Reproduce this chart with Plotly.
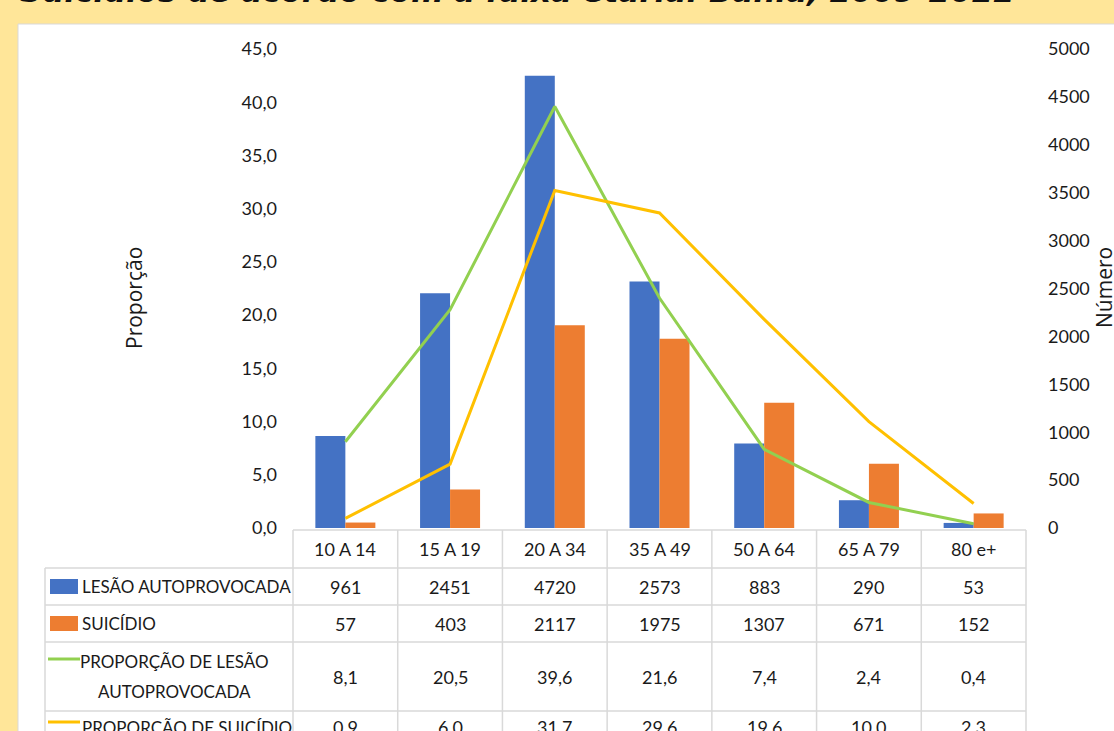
import plotly.graph_objects as go

W, H = 1114, 731

categories = ["10 A 14", "15 A 19", "20 A 34", "35 A 49", "50 A 64", "65 A 79", "80 e+"]
lesao = [961, 2451, 4720, 2573, 883, 290, 53]
suicidio = [57, 403, 2117, 1975, 1307, 671, 152]
prop_lesao = [8.1, 20.5, 39.6, 21.6, 7.4, 2.4, 0.4]
prop_suicidio = [0.9, 6.0, 31.7, 29.6, 19.6, 10.0, 2.3]

row_labels = ["LESÃO AUTOPROVOCADA", "SUICÍDIO", "PROPORÇÃO DE LESÃO<br>AUTOPROVOCADA", "PROPORÇÃO DE SUICÍDIO"]
title_text = "Suicídios de acordo com a faixa etária. Bahia, 2009-2022"

BLUE = "#4472C4"
ORANGE = "#ED7D31"
GREEN = "#92D050"
GOLD = "#FFC000"
GRID = "#D9D9D9"
FONT = "Lato"

def px(x):
    return x / W

def py(y):
    return 1 - y / H

xd = [px(293), px(1026)]
yd = [py(528), py(49)]

fig = go.Figure()
fig.add_trace(go.Bar(x=categories, y=lesao, name="LESÃO AUTOPROVOCADA", marker_color=BLUE,
                     marker_line_width=0, yaxis="y"))
fig.add_trace(go.Bar(x=categories, y=suicidio, name="SUICÍDIO", marker_color=ORANGE,
                     marker_line_width=0, yaxis="y"))
fig.add_trace(go.Scatter(x=categories, y=prop_lesao, mode="lines", line=dict(color=GREEN, width=3),
                         name="PROPORÇÃO DE LESÃO AUTOPROVOCADA", yaxis="y2"))
fig.add_trace(go.Scatter(x=categories, y=prop_suicidio, mode="lines", line=dict(color=GOLD, width=3),
                         name="PROPORÇÃO DE SUICÍDIO", yaxis="y2"))

shapes = []
annotations = []

# white chart area
shapes.append(dict(type="rect", xref="paper", yref="paper", x0=px(18), x1=1.02, y0=-0.02, y1=py(24),
                   fillcolor="white", line=dict(color=GRID, width=1), layer="below"))

# table geometry
n = len(categories)
def col_x(i):
    return xd[0] + (xd[1] - xd[0]) * i / n

row_bounds = [568, 605, 642, 711]
row_centers = [586.5, 623.5, 676.5, 727]

shapes.append(dict(type="line", xref="paper", yref="paper", x0=col_x(0), x1=col_x(n), y0=py(530), y1=py(530),
                   line=dict(color=GRID, width=1.5)))
for i in range(n + 1):
    shapes.append(dict(type="line", xref="paper", yref="paper", x0=col_x(i), x1=col_x(i), y0=py(530), y1=-0.05,
                       line=dict(color=GRID, width=1.5)))
for yb in row_bounds:
    shapes.append(dict(type="line", xref="paper", yref="paper", x0=px(45), x1=col_x(n), y0=py(yb), y1=py(yb),
                       line=dict(color=GRID, width=1.5)))
shapes.append(dict(type="line", xref="paper", yref="paper", x0=px(45), x1=px(45), y0=py(568), y1=-0.05,
                   line=dict(color=GRID, width=1.5)))

# legend keys
shapes.append(dict(type="rect", xref="paper", yref="paper", x0=px(50), x1=px(78), y0=py(594), y1=py(579),
                   fillcolor=BLUE, line=dict(width=0)))
shapes.append(dict(type="rect", xref="paper", yref="paper", x0=px(50), x1=px(78), y0=py(631), y1=py(616),
                   fillcolor=ORANGE, line=dict(width=0)))
shapes.append(dict(type="line", xref="paper", yref="paper", x0=px(48), x1=px(80), y0=py(659), y1=py(659),
                   line=dict(color=GREEN, width=3)))
shapes.append(dict(type="line", xref="paper", yref="paper", x0=px(48), x1=px(80), y0=py(722), y1=py(722),
                   line=dict(color=GOLD, width=3)))

tfont = dict(family=FONT, size=18, color="#1a1a1a")
lfont = dict(family=FONT, size=17, color="#1a1a1a")

for i, c in enumerate(categories):
    annotations.append(dict(text=c, x=(col_x(i) + col_x(i + 1)) / 2, y=py(549), xref="paper", yref="paper",
                            showarrow=False, font=tfont, xanchor="center", yanchor="middle"))

rows = [lesao, suicidio,
        [f"{v:.1f}".replace(".", ",") for v in prop_lesao],
        [f"{v:.1f}".replace(".", ",") for v in prop_suicidio]]
for r, vals in enumerate(rows):
    yc = row_centers[r]
    parts = row_labels[r].split("<br>")
    if len(parts) == 1:
        annotations.append(dict(text=parts[0], x=px(80), y=py(yc), xref="paper", yref="paper",
                                showarrow=False, font=lfont, xanchor="left", yanchor="middle"))
    else:
        for k, part in enumerate(parts):
            annotations.append(dict(text=part, x=px(174), y=py(yc - 15 + 30 * k), xref="paper", yref="paper",
                                    showarrow=False, font=lfont, xanchor="center", yanchor="middle"))
    for i, v in enumerate(vals):
        annotations.append(dict(text=str(v), x=(col_x(i) + col_x(i + 1)) / 2, y=py(yc), xref="paper", yref="paper",
                                showarrow=False, font=tfont, xanchor="center", yanchor="middle"))

annotations.append(dict(text="Proporção", x=px(134), y=py(298), xref="paper", yref="paper", showarrow=False,
                        textangle=-90, font=dict(family="Open Sans", size=21, color="#1a1a1a"),
                        xanchor="center", yanchor="middle"))
annotations.append(dict(text="Número", x=px(1104), y=py(288), xref="paper", yref="paper", showarrow=False,
                        textangle=-90, font=dict(family="Open Sans", size=21, color="#1a1a1a"),
                        xanchor="center", yanchor="middle"))

annotations.append(dict(text=title_text, x=px(18), y=py(11), xref="paper", yref="paper", showarrow=False,
                        font=dict(family="DejaVu Sans", size=31, color="#111111", weight="bold", style="italic"),
                        xanchor="left", yanchor="bottom"))

fig.update_layout(
    width=W, height=H,
    margin=dict(l=0, r=0, t=0, b=0, pad=0, autoexpand=False),
    paper_bgcolor="#FFE699",
    plot_bgcolor="rgba(0,0,0,0)",
    showlegend=False,
    barmode="group",
    bargap=0.427,
    bargroupgap=0,
    separators=",.",
    shapes=shapes,
    annotations=annotations,
    xaxis=dict(domain=xd, range=[-0.5, n - 0.5], showticklabels=False, showgrid=False, zeroline=False,
               showline=False, ticks="", automargin=False),
    yaxis=dict(domain=yd, range=[0, 5000], side="right", tickvals=list(range(0, 5001, 500)),
               showgrid=False, zeroline=False, showline=False, ticks="", automargin=False,
               tickfont=dict(family=FONT, size=18, color="#1a1a1a"), ticklabelstandoff=21),
    yaxis2=dict(overlaying="y", side="left", range=[0, 45], tickvals=[i * 5 for i in range(10)],
                tickformat=".1f", showgrid=False, zeroline=False, showline=False, ticks="", automargin=False,
                tickfont=dict(family=FONT, size=18, color="#1a1a1a"), ticklabelstandoff=15),
)

fig.write_html("out.html")
